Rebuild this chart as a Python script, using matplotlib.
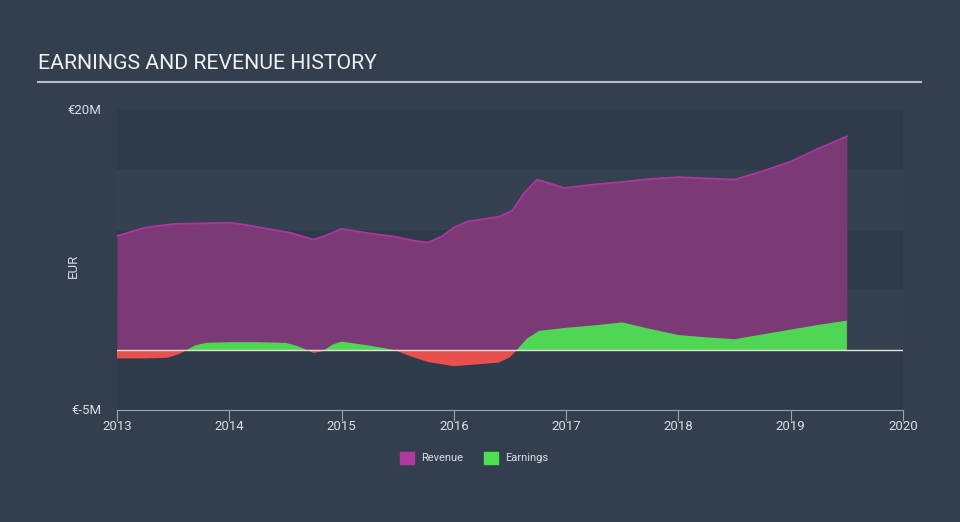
import matplotlib.pyplot as plt
import numpy as np

plt.rcParams['font.family'] = ['Roboto', 'DejaVu Sans']

# revenue, EUR millions
rev_t = [2013.0, 2013.25, 2013.5, 2013.75, 2014.0, 2014.1, 2014.28, 2014.55, 2014.75, 2014.85,
         2015.0, 2015.26, 2015.47, 2015.65, 2015.77, 2015.9, 2016.0, 2016.12, 2016.4, 2016.52,
         2016.62, 2016.74, 2016.85, 2016.98, 2017.25, 2017.5, 2017.75, 2018.0, 2018.25,
         2018.5, 2018.75, 2019.0, 2019.25, 2019.5]
rev_v = [9.5, 10.2, 10.5, 10.55, 10.6, 10.5, 10.2, 9.75, 9.2, 9.5,
         10.1, 9.7, 9.45, 9.1, 8.95, 9.5, 10.2, 10.7, 11.1, 11.6,
         13.0, 14.2, 13.9, 13.5, 13.8, 14.0, 14.25, 14.4, 14.3,
         14.2, 14.9, 15.7, 16.8, 17.8]

# earnings, EUR millions
earn_t = [2013.0, 2013.25, 2013.45, 2013.55, 2013.62, 2013.7, 2013.8, 2014.0, 2014.25,
          2014.5, 2014.6, 2014.68, 2014.75, 2014.83, 2014.92, 2015.0, 2015.26, 2015.47,
          2015.62, 2015.77, 2016.0, 2016.4, 2016.5, 2016.56, 2016.65, 2016.76, 2017.0,
          2017.25, 2017.5, 2017.75, 2018.0, 2018.25, 2018.5, 2018.75, 2019.0, 2019.25,
          2019.5]
earn_v = [-0.7, -0.7, -0.65, -0.35, 0.0, 0.4, 0.6, 0.65, 0.65,
          0.6, 0.35, 0.05, -0.25, -0.1, 0.45, 0.7, 0.35, 0.0,
          -0.55, -1.0, -1.35, -1.05, -0.6, 0.0, 0.95, 1.6, 1.85,
          2.05, 2.3, 1.75, 1.25, 1.05, 0.9, 1.3, 1.7, 2.1,
          2.45]

years = [2013, 2014, 2015, 2016, 2017, 2018, 2019, 2020]

bg = '#333f4e'
fig = plt.figure(figsize=(9.6, 5.22), dpi=100, facecolor=bg)
ax = fig.add_axes([117 / 960, 112 / 522, 786 / 960, 300 / 522])
ax.set_facecolor('#334150')

for lo, hi in [(15, 20), (5, 10), (-5, 0)]:
    ax.axhspan(lo, hi, color='#2e3b4a', lw=0, zorder=0)

ax.fill_between(rev_t, 0, rev_v, color='#7b3a75', lw=0, zorder=2)
ax.plot(rev_t, rev_v, color='#b0369f', lw=1.3, zorder=3)

et = np.array(earn_t)
ev = np.array(earn_v)
ax.fill_between(et, 0, ev, where=ev >= 0, interpolate=True, color='#4fd654', lw=0, zorder=4)
ax.fill_between(et, 0, ev, where=ev <= 0, interpolate=True, color='#e8504f', lw=0, zorder=4)
ax.axhline(0, color='#e6e2d0', lw=1, zorder=5)

ax.set_xlim(2013, 2020)
ax.set_ylim(-5, 20)
ax.set_xticks(years)
ax.set_xticklabels([str(y) for y in years])
ax.set_yticks([])
for s in ['top', 'right', 'left']:
    ax.spines[s].set_visible(False)
ax.spines['bottom'].set_color('#9aa5b1')
ax.tick_params(axis='x', colors='#9aa5b1', labelcolor='#d8dde2', labelsize=9.5,
               length=8, direction='out', pad=-1)

ax.text(-0.02, 1.0, '€20M', transform=ax.transAxes, ha='right', va='center',
        color='#d8dde2', fontsize=9.5)
ax.text(-0.02, 0.0, '€-5M', transform=ax.transAxes, ha='right', va='center',
        color='#d8dde2', fontsize=9.5)
fig.text(73 / 960, 1 - 266 / 522, 'EUR', rotation=90, ha='center', va='center',
         color='#d8dde2', fontsize=9.5)

fig.text(38 / 960, 1 - 69 / 522, 'EARNINGS AND REVENUE HISTORY', ha='left',
         va='baseline', color='#f0f0f0', fontsize=15.3)
fig.add_artist(plt.Line2D([38 / 960, 921 / 960], [1 - 81.5 / 522, 1 - 81.5 / 522],
                          color='#b8bcc2', lw=1.5))

# legend
ly = 1 - 458 / 522
fig.patches.append(plt.Rectangle((400 / 960, ly - 6 / 522), 14 / 960, 12 / 522,
                                 transform=fig.transFigure, color='#b0399f'))
fig.text(421 / 960, ly, 'Revenue', ha='left', va='center', color='#d8dde2', fontsize=8)
fig.patches.append(plt.Rectangle((484 / 960, ly - 6 / 522), 14 / 960, 12 / 522,
                                 transform=fig.transFigure, color='#4fe04f'))
fig.text(505 / 960, ly, 'Earnings', ha='left', va='center', color='#d8dde2', fontsize=8)

fig.savefig('out.png', dpi=100, facecolor=bg)
